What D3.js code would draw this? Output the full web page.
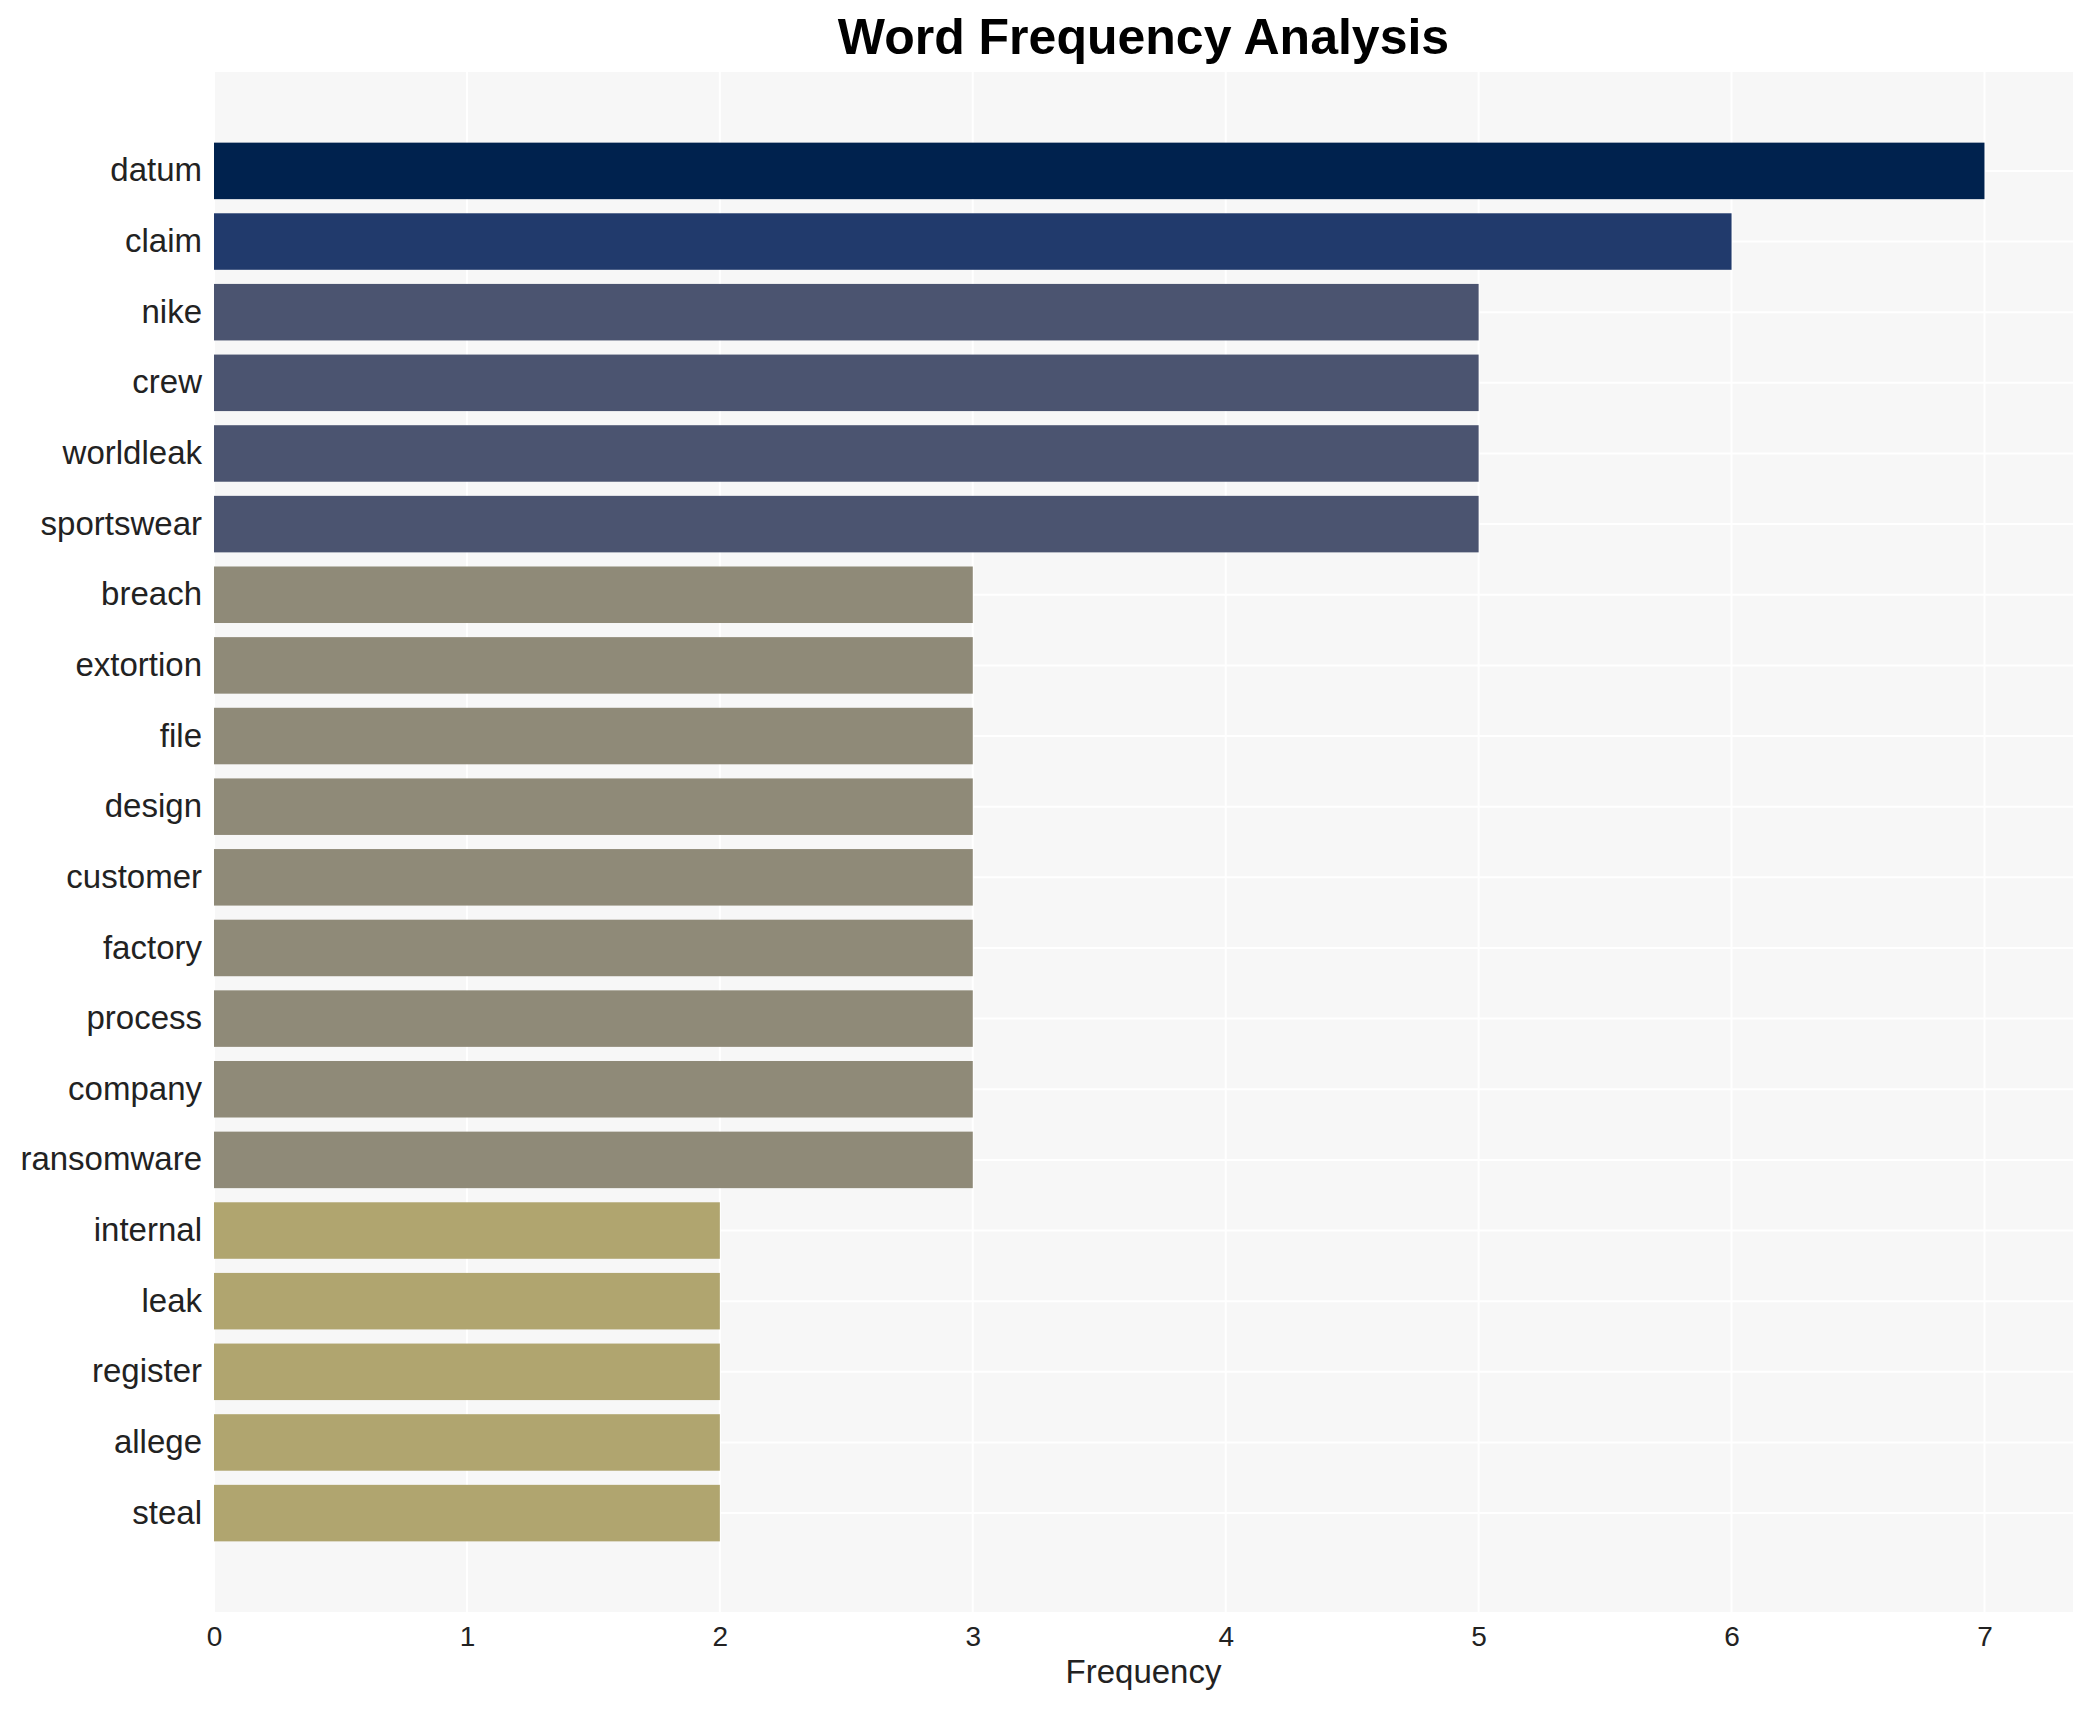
<!DOCTYPE html>
<html>
<head>
<meta charset="utf-8">
<script src="https://cdn.jsdelivr.net/npm/d3@7"></script>
<style>
  body { margin: 0; background: #fff; }
  text { font-family: Arial, "Liberation Sans", sans-serif; }
</style>
</head>
<body>
<div id="chart"></div>
<script>
// data, top bar first
var words = ["datum", "claim", "nike", "crew", "worldleak", "sportswear", "breach", "extortion",
  "file", "design", "customer", "factory", "process", "company", "ransomware",
  "internal", "leak", "register", "allege", "steal"];
var counts = [7, 6, 5, 5, 5, 5, 3, 3, 3, 3, 3, 3, 3, 3, 3, 2, 2, 2, 2, 2];
var xTicks = [0, 1, 2, 3, 4, 5, 6, 7];

var width = 2093, height = 1710;
var margin = { top: 72, right: 20, bottom: 98, left: 214 };
var chartWidth = width - margin.left - margin.right;
var chartHeight = height - margin.top - margin.bottom;

var svg = d3.select("#chart").append("svg")
  .attr("width", width)
  .attr("height", height);

var g = svg.append("g")
  .attr("transform", `translate(${margin.left}, ${margin.top})`);

var xScale = d3.scaleLinear().domain([0, 7.35]).range([0, chartWidth]);
var yScale = d3.scaleBand()
  .domain(words)
  .range([0, chartHeight])
  .paddingInner(0.2)
  .paddingOuter(1.0);

// colour by count, darker for more frequent words
var color = d3.scaleOrdinal()
  .domain([7, 6, 5, 3, 2])
  .range(["#00224e", "#213a6c", "#4b5470", "#8f8a78", "#b0a56f"]);

// plot background
g.append("rect")
  .attr("width", chartWidth)
  .attr("height", chartHeight)
  .attr("fill", "#f7f7f7");

// grid lines
g.append("g").selectAll("line.vx")
  .data(xTicks)
  .enter().append("line")
  .attr("x1", d => xScale(d)).attr("x2", d => xScale(d))
  .attr("y1", 0).attr("y2", chartHeight)
  .attr("stroke", "#fff").attr("stroke-width", 2);

g.append("g").selectAll("line.hy")
  .data(words)
  .enter().append("line")
  .attr("x1", 0).attr("x2", chartWidth)
  .attr("y1", d => yScale(d) + yScale.bandwidth() / 2)
  .attr("y2", d => yScale(d) + yScale.bandwidth() / 2)
  .attr("stroke", "#fff").attr("stroke-width", 2);

// bars
g.append("g").attr("class", "bars")
  .selectAll(".bar")
  .data(words)
  .enter().append("rect")
  .attr("class", "bar")
  .attr("x", 0)
  .attr("y", d => yScale(d))
  .attr("width", (d, i) => xScale(counts[i]))
  .attr("height", yScale.bandwidth())
  .attr("fill", (d, i) => color(counts[i]));

// axes without lines, just labels
var xAxis = d3.axisBottom(xScale).tickValues(xTicks).tickSize(0).tickPadding(14);
var xg = g.append("g")
  .attr("transform", `translate(0, ${chartHeight})`)
  .call(xAxis);
xg.select(".domain").remove();
xg.selectAll("text").attr("font-size", 28).attr("fill", "#222")
  .style("font-family", "Arial, 'Liberation Sans', sans-serif");

var yAxis = d3.axisLeft(yScale).tickSize(0).tickPadding(12);
var yg = g.append("g").call(yAxis);
yg.select(".domain").remove();
yg.selectAll("text").attr("font-size", 33).attr("fill", "#222")
  .style("font-family", "Arial, 'Liberation Sans', sans-serif");

// axis title
g.append("text")
  .attr("x", chartWidth / 2)
  .attr("y", chartHeight + 71)
  .attr("text-anchor", "middle")
  .attr("font-size", 33)
  .attr("fill", "#222")
  .text("Frequency");

// chart title
svg.append("text")
  .attr("x", margin.left + chartWidth / 2)
  .attr("y", 54)
  .attr("text-anchor", "middle")
  .attr("font-size", 50)
  .attr("font-weight", "bold")
  .attr("fill", "#000")
  .text("Word Frequency Analysis");
</script>
</body>
</html>
